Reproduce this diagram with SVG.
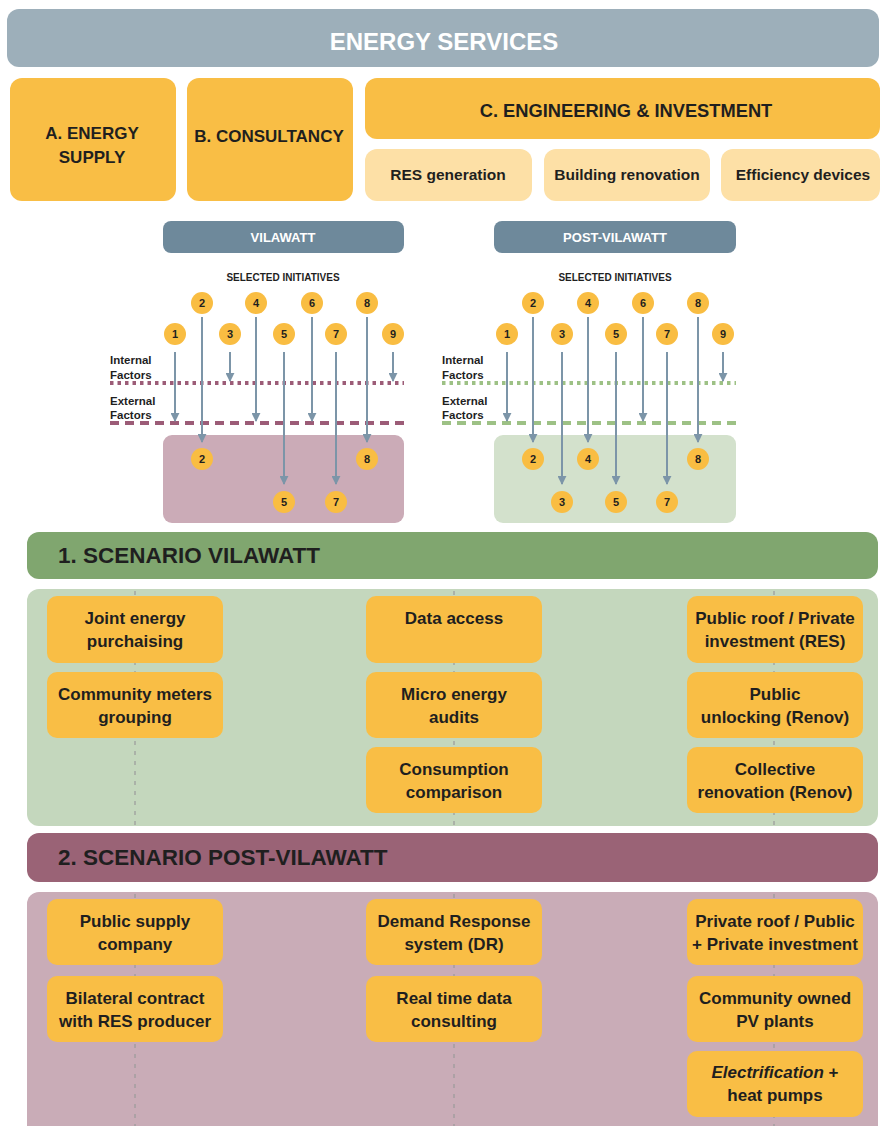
<svg xmlns="http://www.w3.org/2000/svg" width="880" height="1126" viewBox="0 0 880 1126">
<defs>
<marker id="ah" viewBox="0 0 10 10" refX="9" refY="5" markerWidth="4.5" markerHeight="4.5" orient="auto" markerUnits="strokeWidth">
<path d="M0,0 L10,5 L0,10 z" fill="#7C95A8"/>
</marker>
<style>
text{font-family:"Liberation Sans","Noto Sans",Arial,sans-serif;font-weight:bold;text-anchor:middle;fill:#1f1f1f}
.ob{fill:#F9BE45}
.lb{fill:#FDE0A6}
.t16{font-size:17px}
.t17{font-size:17px}
.num{font-size:11px}
.circ{fill:#F9BD42}
.arr{stroke:#7C95A8;stroke-width:2;fill:none;marker-end:url(#ah)}
.fac{font-size:11.5px;text-anchor:start}
.vdash{stroke:#9a9a9a;stroke-width:1.2;stroke-dasharray:4 6;fill:none}
.hd{font-size:22.5px;text-anchor:start}
.sub{font-size:15.5px}
</style>
</defs>
<rect width="880" height="1126" fill="#ffffff"/>

<g id="energy-services">
<rect x="7" y="9" width="872" height="58" rx="12" fill="#9DAFBA"/>
<text x="444" y="50" style="font-size:24px;fill:#ffffff">ENERGY SERVICES</text>
</g>

<g id="a-energy-supply">
<rect x="10" y="78" width="166" height="123" rx="12" class="ob"/>
<text x="92" y="139" class="t16">A. ENERGY</text>
<text x="92" y="163" class="t16">SUPPLY</text>
</g>
<g id="b-consultancy">
<rect x="187" y="78" width="166" height="123" rx="12" class="ob"/>
<text x="269" y="142" class="t16">B. CONSULTANCY</text>
</g>
<g id="c-engineering">
<rect x="365" y="78" width="515" height="61" rx="12" class="ob"/>
<text x="626" y="117" style="font-size:18.3px">C. ENGINEERING &amp; INVESTMENT</text>
</g>
<g id="res-generation">
<rect x="365" y="149" width="167" height="52" rx="12" class="lb"/>
<text x="448" y="180" class="sub">RES generation</text>
</g>
<g id="building-renovation">
<rect x="544" y="149" width="166" height="52" rx="12" class="lb"/>
<text x="627" y="180" class="sub">Building renovation</text>
</g>
<g id="efficiency-devices">
<rect x="721" y="149" width="159" height="52" rx="12" class="lb"/>
<text x="803" y="180" class="sub">Efficiency devices</text>
</g>

<g id="vilawatt">
<rect x="163" y="221" width="241" height="32" rx="8" fill="#6E899B"/>
<text x="283" y="242" style="font-size:13px;fill:#ffffff">VILAWATT</text>
<text x="283" y="281" style="font-size:10px">SELECTED INITIATIVES</text>
<text x="110" y="364" class="fac">Internal</text>
<text x="110" y="379" class="fac">Factors</text>
<text x="110" y="405" class="fac">External</text>
<text x="110" y="419" class="fac">Factors</text>
<line x1="110" y1="383" x2="404" y2="383" stroke="#9C5C77" stroke-width="4" stroke-dasharray="3.5 4"/>
<line x1="110" y1="423" x2="404" y2="423" stroke="#9C5C77" stroke-width="4" stroke-dasharray="9 6"/>
<rect x="163" y="435" width="241" height="88" rx="9" fill="#CBABB7"/>
</g>

<g id="post-vilawatt">
<rect x="494" y="221" width="242" height="32" rx="8" fill="#6E899B"/>
<text x="615" y="242" style="font-size:13px;fill:#ffffff">POST-VILAWATT</text>
<text x="615" y="281" style="font-size:10px">SELECTED INITIATIVES</text>
<text x="442" y="364" class="fac">Internal</text>
<text x="442" y="379" class="fac">Factors</text>
<text x="442" y="405" class="fac">External</text>
<text x="442" y="419" class="fac">Factors</text>
<line x1="442" y1="383" x2="736" y2="383" stroke="#9DC185" stroke-width="4" stroke-dasharray="3.5 4"/>
<line x1="442" y1="423" x2="736" y2="423" stroke="#9DC185" stroke-width="4" stroke-dasharray="9 6"/>
<rect x="494" y="435" width="242" height="88" rx="9" fill="#D3E1CC"/>
</g>

<g id="connectors">
<line class="arr" x1="175" y1="352" x2="175" y2="421"/>
<line class="arr" x1="202" y1="317" x2="202" y2="442"/>
<line class="arr" x1="230" y1="352" x2="230" y2="381"/>
<line class="arr" x1="256" y1="317" x2="256" y2="421"/>
<line class="arr" x1="284" y1="352" x2="284" y2="484"/>
<line class="arr" x1="312" y1="317" x2="312" y2="421"/>
<line class="arr" x1="336" y1="352" x2="336" y2="484"/>
<line class="arr" x1="367" y1="317" x2="367" y2="442"/>
<line class="arr" x1="393" y1="352" x2="393" y2="381"/>

<line class="arr" x1="507" y1="352" x2="507" y2="421"/>
<line class="arr" x1="533" y1="317" x2="533" y2="442"/>
<line class="arr" x1="562" y1="352" x2="562" y2="484"/>
<line class="arr" x1="588" y1="317" x2="588" y2="442"/>
<line class="arr" x1="616" y1="352" x2="616" y2="484"/>
<line class="arr" x1="643" y1="317" x2="643" y2="421"/>
<line class="arr" x1="667" y1="352" x2="667" y2="484"/>
<line class="arr" x1="698" y1="317" x2="698" y2="442"/>
<line class="arr" x1="723" y1="352" x2="723" y2="381"/>
</g>

<g id="vilawatt-initiatives">
<circle class="circ" cx="202" cy="303" r="11"/><text class="num" x="202" y="307">2</text>
<circle class="circ" cx="256" cy="303" r="11"/><text class="num" x="256" y="307">4</text>
<circle class="circ" cx="312" cy="303" r="11"/><text class="num" x="312" y="307">6</text>
<circle class="circ" cx="367" cy="303" r="11"/><text class="num" x="367" y="307">8</text>
<circle class="circ" cx="175" cy="334" r="11"/><text class="num" x="175" y="338">1</text>
<circle class="circ" cx="230" cy="334" r="11"/><text class="num" x="230" y="338">3</text>
<circle class="circ" cx="284" cy="334" r="11"/><text class="num" x="284" y="338">5</text>
<circle class="circ" cx="336" cy="334" r="11"/><text class="num" x="336" y="338">7</text>
<circle class="circ" cx="393" cy="334" r="11"/><text class="num" x="393" y="338">9</text>
<circle class="circ" cx="202" cy="459" r="11"/><text class="num" x="202" y="463">2</text>
<circle class="circ" cx="367" cy="459" r="11"/><text class="num" x="367" y="463">8</text>
<circle class="circ" cx="284" cy="502" r="11"/><text class="num" x="284" y="506">5</text>
<circle class="circ" cx="336" cy="502" r="11"/><text class="num" x="336" y="506">7</text>
</g>

<g id="post-vilawatt-initiatives">
<circle class="circ" cx="533" cy="303" r="11"/><text class="num" x="533" y="307">2</text>
<circle class="circ" cx="588" cy="303" r="11"/><text class="num" x="588" y="307">4</text>
<circle class="circ" cx="643" cy="303" r="11"/><text class="num" x="643" y="307">6</text>
<circle class="circ" cx="698" cy="303" r="11"/><text class="num" x="698" y="307">8</text>
<circle class="circ" cx="507" cy="334" r="11"/><text class="num" x="507" y="338">1</text>
<circle class="circ" cx="562" cy="334" r="11"/><text class="num" x="562" y="338">3</text>
<circle class="circ" cx="616" cy="334" r="11"/><text class="num" x="616" y="338">5</text>
<circle class="circ" cx="667" cy="334" r="11"/><text class="num" x="667" y="338">7</text>
<circle class="circ" cx="723" cy="334" r="11"/><text class="num" x="723" y="338">9</text>
<circle class="circ" cx="533" cy="459" r="11"/><text class="num" x="533" y="463">2</text>
<circle class="circ" cx="588" cy="459" r="11"/><text class="num" x="588" y="463">4</text>
<circle class="circ" cx="698" cy="459" r="11"/><text class="num" x="698" y="463">8</text>
<circle class="circ" cx="562" cy="502" r="11"/><text class="num" x="562" y="506">3</text>
<circle class="circ" cx="616" cy="502" r="11"/><text class="num" x="616" y="506">5</text>
<circle class="circ" cx="667" cy="502" r="11"/><text class="num" x="667" y="506">7</text>
</g>

<g id="scenario-1">
<rect x="27" y="532" width="851" height="47" rx="12" fill="#80A66F"/>
<text x="58" y="563" class="hd">1. SCENARIO VILAWATT</text>
<rect x="27" y="589" width="851" height="237" rx="12" fill="#C4D7BD"/>
<line class="vdash" x1="135" y1="591" x2="135" y2="826"/>
<line class="vdash" x1="454" y1="591" x2="454" y2="826"/>
<line class="vdash" x1="774" y1="591" x2="774" y2="826"/>
</g>
<g id="s1-joint-energy">
<rect x="47" y="596" width="176" height="67" rx="10" class="ob"/>
<text x="135" y="624" class="t17">Joint energy</text>
<text x="135" y="647" class="t17">purchaising</text>
</g>
<g id="s1-community-meters">
<rect x="47" y="672" width="176" height="66" rx="10" class="ob"/>
<text x="135" y="700" class="t17">Community meters</text>
<text x="135" y="723" class="t17">grouping</text>
</g>
<g id="s1-data-access">
<rect x="366" y="596" width="176" height="67" rx="10" class="ob"/>
<text x="454" y="624" class="t17">Data access</text>
</g>
<g id="s1-micro-audits">
<rect x="366" y="672" width="176" height="66" rx="10" class="ob"/>
<text x="454" y="700" class="t17">Micro energy</text>
<text x="454" y="723" class="t17">audits</text>
</g>
<g id="s1-consumption">
<rect x="366" y="747" width="176" height="66" rx="10" class="ob"/>
<text x="454" y="775" class="t17">Consumption</text>
<text x="454" y="798" class="t17">comparison</text>
</g>
<g id="s1-public-roof">
<rect x="687" y="596" width="176" height="67" rx="10" class="ob"/>
<text x="775" y="624" class="t17">Public roof / Private</text>
<text x="775" y="647" class="t17">investment (RES)</text>
</g>
<g id="s1-public-unlocking">
<rect x="687" y="672" width="176" height="66" rx="10" class="ob"/>
<text x="775" y="700" class="t17">Public</text>
<text x="775" y="723" class="t17">unlocking (Renov)</text>
</g>
<g id="s1-collective">
<rect x="687" y="747" width="176" height="66" rx="10" class="ob"/>
<text x="775" y="775" class="t17">Collective</text>
<text x="775" y="798" class="t17">renovation (Renov)</text>
</g>

<g id="scenario-2">
<rect x="27" y="833" width="851" height="49" rx="12" fill="#9A6376"/>
<text x="58" y="865" class="hd">2. SCENARIO POST-VILAWATT</text>
<rect x="27" y="892" width="851" height="246" rx="12" fill="#C9ACB7"/>
<line class="vdash" x1="135" y1="894" x2="135" y2="1126"/>
<line class="vdash" x1="454" y1="894" x2="454" y2="1126"/>
<line class="vdash" x1="774" y1="894" x2="774" y2="1126"/>
</g>
<g id="s2-public-supply">
<rect x="47" y="899" width="176" height="66" rx="10" class="ob"/>
<text x="135" y="927" class="t17">Public supply</text>
<text x="135" y="950" class="t17">company</text>
</g>
<g id="s2-bilateral">
<rect x="47" y="976" width="176" height="66" rx="10" class="ob"/>
<text x="135" y="1004" class="t17">Bilateral contract</text>
<text x="135" y="1027" class="t17">with RES producer</text>
</g>
<g id="s2-demand-response">
<rect x="366" y="899" width="176" height="66" rx="10" class="ob"/>
<text x="454" y="927" class="t17">Demand Response</text>
<text x="454" y="950" class="t17">system (DR)</text>
</g>
<g id="s2-real-time">
<rect x="366" y="976" width="176" height="66" rx="10" class="ob"/>
<text x="454" y="1004" class="t17">Real time data</text>
<text x="454" y="1027" class="t17">consulting</text>
</g>
<g id="s2-private-roof">
<rect x="687" y="899" width="176" height="66" rx="10" class="ob"/>
<text x="775" y="927" class="t17">Private roof / Public</text>
<text x="775" y="950" class="t17">+ Private investment</text>
</g>
<g id="s2-community-pv">
<rect x="687" y="976" width="176" height="66" rx="10" class="ob"/>
<text x="775" y="1004" class="t17">Community owned</text>
<text x="775" y="1027" class="t17">PV plants</text>
</g>
<g id="s2-electrification">
<rect x="687" y="1051" width="176" height="66" rx="10" class="ob"/>
<text x="775" y="1078" class="t17"><tspan font-style="italic">Electrification</tspan> +</text>
<text x="775" y="1101" class="t17">heat pumps</text>
</g>
</svg>
